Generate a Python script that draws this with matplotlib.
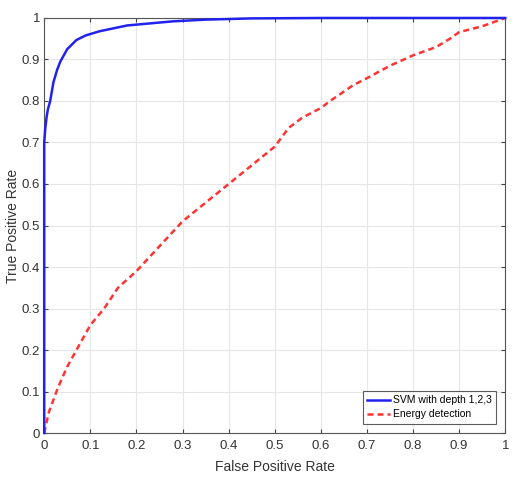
import numpy as np
import matplotlib
matplotlib.use('Agg')
import matplotlib.pyplot as plt

plt.rcParams['font.family'] = ['Liberation Sans', 'DejaVu Sans']

# ROC curve points
svm_fpr = [0.0, 0.0, 0.002, 0.005, 0.008, 0.013, 0.02, 0.028, 0.035, 0.05, 0.07, 0.09,
           0.12, 0.15, 0.18, 0.22, 0.28, 0.35, 0.45, 0.6, 0.8, 1.0]
svm_tpr = [0.0, 0.70, 0.73, 0.76, 0.78, 0.80, 0.845, 0.875, 0.895, 0.925, 0.947, 0.958,
           0.968, 0.975, 0.982, 0.986, 0.992, 0.996, 0.999, 1.0, 1.0, 1.0]

ed_fpr = [0.0, 0.01, 0.03, 0.05, 0.08, 0.1, 0.13, 0.16, 0.2, 0.25, 0.3, 0.35, 0.4, 0.45,
          0.5, 0.53, 0.56, 0.6, 0.62, 0.67, 0.7, 0.75, 0.8, 0.85, 0.88, 0.9, 0.95, 1.0]
ed_tpr = [0.0, 0.05, 0.11, 0.16, 0.22, 0.26, 0.30, 0.35, 0.39, 0.45, 0.51, 0.555, 0.60, 0.645,
          0.69, 0.735, 0.76, 0.783, 0.80, 0.838, 0.855, 0.885, 0.91, 0.93, 0.95, 0.966, 0.98, 1.0]

fig = plt.figure(figsize=(5.14, 4.86), dpi=100)
ax = fig.add_axes([0.086, 0.109, 0.897, 0.854])

ax.plot(svm_fpr, svm_tpr, color='#2222ee', lw=1.8, label='SVM with depth 1,2,3',
        clip_on=False, zorder=4)
ax.plot(ed_fpr, ed_tpr, color='#ff3333', lw=1.8, ls=(0, (2.4, 1.6)), label='Energy detection',
        zorder=3)

ticks = np.round(np.arange(0, 1.01, 0.1), 1)
labels = ['0'] + [f'{t:.1f}' for t in ticks[1:-1]] + ['1']
ax.set_xlim(0, 1)
ax.set_ylim(0, 1)
ax.set_xticks(ticks)
ax.set_xticklabels(labels)
ax.set_yticks(ticks)
ax.set_yticklabels(labels)
ax.tick_params(direction='in', top=True, right=True, length=3, colors='#444444',
               labelsize=9.5, labelcolor='#333333')
ax.tick_params(axis='x', pad=5)
ax.tick_params(axis='y', pad=3)
ax.grid(True, color='#e6e6e6', lw=0.8)
for s in ax.spines.values():
    s.set_color('#555555')
    s.set_linewidth(0.8)

ax.set_xlabel('False Positive Rate', fontsize=10, color='#333333', labelpad=6)
ax.set_ylabel('True Positive Rate', fontsize=10, color='#333333', labelpad=1)

leg = ax.legend(loc='lower right', fontsize=7.5, frameon=True, fancybox=False,
                edgecolor='#333333', handlelength=2.2, borderpad=0.4, labelspacing=0.4,
                handletextpad=0.3, borderaxespad=0.9)
leg.get_frame().set_linewidth(0.8)

fig.savefig('out.png', dpi=100)
